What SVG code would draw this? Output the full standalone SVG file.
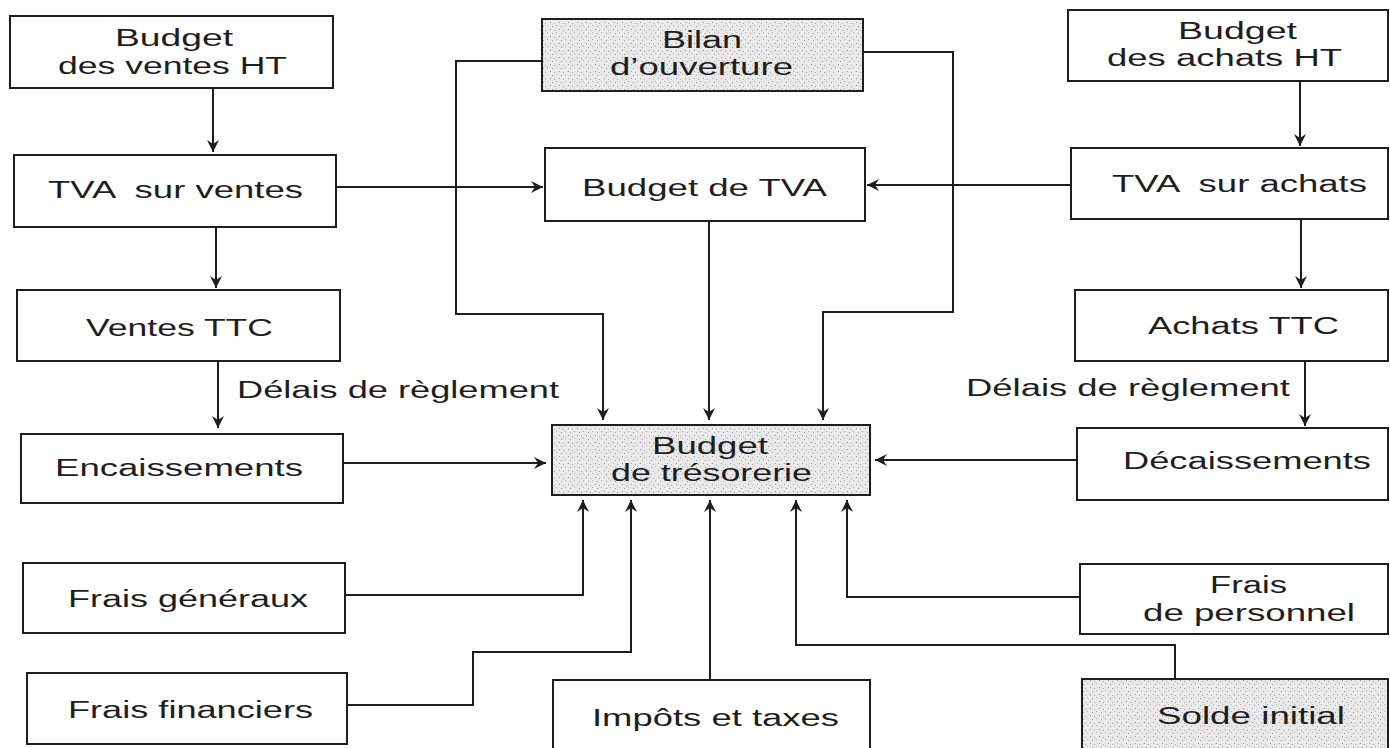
<svg xmlns="http://www.w3.org/2000/svg" width="1390" height="748" viewBox="0 0 1390 748">
<style>
.box{fill:#fff;stroke:#1e1e1e;stroke-width:2}
.shade{fill:url(#stipple);stroke:#1e1e1e;stroke-width:2}
.t{font-family:"Liberation Sans",Arial,Helvetica,sans-serif;font-size:23px;fill:#1e1e1e;white-space:pre}
.c{fill:none;stroke:#1e1e1e;stroke-width:2}
.a{marker-end:url(#arr)}
</style>
<defs>
<pattern id="stipple" width="9" height="7" patternUnits="userSpaceOnUse">
<rect width="9" height="7" fill="#e9e9e9"/>
<rect x="1" y="1" width="1" height="1" fill="#999"/>
<rect x="5" y="2" width="1" height="1" fill="#aaa"/>
<rect x="3" y="5" width="1" height="1" fill="#a0a0a0"/>
<rect x="7" y="4" width="1" height="1" fill="#b5b5b5"/>
</pattern>
<marker id="arr" markerUnits="userSpaceOnUse" markerWidth="14" markerHeight="14" refX="12" refY="6" orient="auto">
<path d="M0,0 L12,6 L0,12 L4,6 Z" fill="#1e1e1e"/>
</marker>
</defs>

<g id="connectors">
<path class="c a" d="M213,88 V152"/>
<path class="c a" d="M216,227 V288"/>
<path class="c a" d="M218,361 V428"/>
<path class="c a" d="M336,187 H543"/>
<path class="c a" d="M343,463 H546"/>
<path class="c a" d="M542,61 H456 V314 H603 V420"/>
<path class="c a" d="M863,52 H953 V312 H823 V420"/>
<path class="c a" d="M709,221 V420"/>
<path class="c a" d="M1071,185 H867"/>
<path class="c a" d="M1300,81 V146"/>
<path class="c a" d="M1301,219 V288"/>
<path class="c a" d="M1305,361 V426"/>
<path class="c a" d="M1077,460 H875"/>
<path class="c a" d="M345,595 H583 V500"/>
<path class="c a" d="M347,705 H473 V652 H631 V500"/>
<path class="c a" d="M710,680 V500"/>
<path class="c a" d="M1175,679 V645 H796 V500"/>
<path class="c a" d="M1080,597 H847 V500"/>
</g>

<g id="budget-ventes-ht">
<rect class="box" x="10" y="16" width="323" height="72"/>
<text class="t" x="115" y="46" textLength="118" lengthAdjust="spacingAndGlyphs">Budget</text>
<text class="t" x="58" y="74" textLength="229" lengthAdjust="spacingAndGlyphs">des ventes HT</text>
</g>
<g id="tva-ventes">
<rect class="box" x="14" y="155" width="322" height="72"/>
<text class="t" x="48" y="198" textLength="255" lengthAdjust="spacingAndGlyphs">TVA  sur ventes</text>
</g>
<g id="ventes-ttc">
<rect class="box" x="17" y="290" width="323" height="71"/>
<text class="t" x="86" y="336" textLength="187" lengthAdjust="spacingAndGlyphs">Ventes TTC</text>
</g>
<g id="label-delais-gauche">
<text class="t" x="237" y="398" textLength="322" lengthAdjust="spacingAndGlyphs">Délais de règlement</text>
</g>
<g id="encaissements">
<rect class="box" x="21" y="434" width="322" height="69"/>
<text class="t" x="55" y="476" textLength="248" lengthAdjust="spacingAndGlyphs">Encaissements</text>
</g>
<g id="frais-generaux">
<rect class="box" x="23" y="563" width="322" height="70"/>
<text class="t" x="68" y="607" textLength="240" lengthAdjust="spacingAndGlyphs">Frais généraux</text>
</g>
<g id="frais-financiers">
<rect class="box" x="27" y="673" width="320" height="71"/>
<text class="t" x="68" y="718" textLength="245" lengthAdjust="spacingAndGlyphs">Frais financiers</text>
</g>

<g id="bilan-ouverture">
<rect class="shade" x="542" y="19" width="321" height="72"/>
<text class="t" x="662" y="48" textLength="80" lengthAdjust="spacingAndGlyphs">Bilan</text>
<text class="t" x="610" y="75" textLength="183" lengthAdjust="spacingAndGlyphs">d’ouverture</text>
</g>
<g id="budget-tva">
<rect class="box" x="545" y="148" width="320" height="73"/>
<text class="t" x="582" y="196" textLength="245" lengthAdjust="spacingAndGlyphs">Budget de TVA</text>
</g>
<g id="budget-tresorerie">
<rect class="shade" x="552" y="425" width="318" height="70"/>
<text class="t" x="652" y="454" textLength="116" lengthAdjust="spacingAndGlyphs">Budget</text>
<text class="t" x="611" y="481" textLength="201" lengthAdjust="spacingAndGlyphs">de trésorerie</text>
</g>
<g id="impots-taxes">
<rect class="box" x="553" y="680" width="317" height="90"/>
<text class="t" x="592" y="726" textLength="247" lengthAdjust="spacingAndGlyphs">Impôts et taxes</text>
</g>

<g id="budget-achats-ht">
<rect class="box" x="1068" y="10" width="320" height="71"/>
<text class="t" x="1178" y="39" textLength="119" lengthAdjust="spacingAndGlyphs">Budget</text>
<text class="t" x="1107" y="66" textLength="235" lengthAdjust="spacingAndGlyphs">des achats HT</text>
</g>
<g id="tva-achats">
<rect class="box" x="1071" y="148" width="317" height="71"/>
<text class="t" x="1112" y="192" textLength="255" lengthAdjust="spacingAndGlyphs">TVA  sur achats</text>
</g>
<g id="achats-ttc">
<rect class="box" x="1075" y="290" width="313" height="71"/>
<text class="t" x="1148" y="334" textLength="191" lengthAdjust="spacingAndGlyphs">Achats TTC</text>
</g>
<g id="label-delais-droite">
<text class="t" x="966" y="396" textLength="324" lengthAdjust="spacingAndGlyphs">Délais de règlement</text>
</g>
<g id="decaissements">
<rect class="box" x="1077" y="428" width="311" height="72"/>
<text class="t" x="1123" y="469" textLength="248" lengthAdjust="spacingAndGlyphs">Décaissements</text>
</g>
<g id="frais-personnel">
<rect class="box" x="1080" y="564" width="308" height="70"/>
<text class="t" x="1210" y="593" textLength="77" lengthAdjust="spacingAndGlyphs">Frais</text>
<text class="t" x="1143" y="621" textLength="212" lengthAdjust="spacingAndGlyphs">de personnel</text>
</g>
<g id="solde-initial">
<rect class="shade" x="1082" y="679" width="306" height="90"/>
<text class="t" x="1157" y="724" textLength="188" lengthAdjust="spacingAndGlyphs">Solde initial</text>
</g>
</svg>
